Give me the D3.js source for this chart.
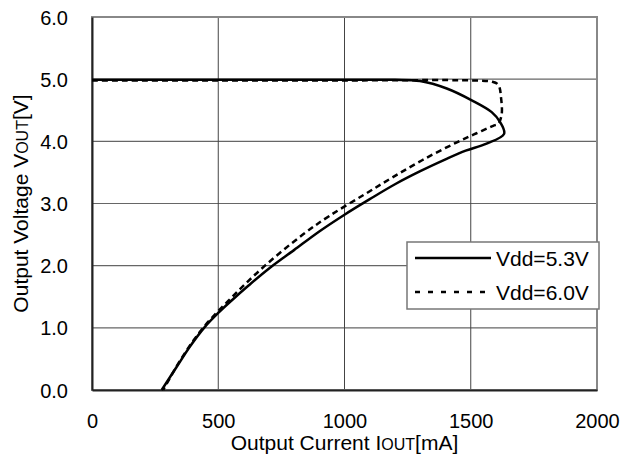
<!DOCTYPE html>
<html>
<head>
<meta charset="utf-8">
<script src="https://cdn.jsdelivr.net/npm/d3@7/dist/d3.min.js"></script>
<style>
  html, body { margin: 0; padding: 0; background: #fff; }
  svg { display: block; font-family: "Liberation Sans", Arial, sans-serif; }
</style>
</head>
<body>
<svg id="chart" width="634" height="462"></svg>
<script>
// Output voltage vs. output current (foldback characteristic)
const xTicks = [0, 500, 1000, 1500, 2000];
const yTicks = [0, 1, 2, 3, 4, 5, 6];

// Vdd = 5.3V
const current53 = [0, 500, 1000, 1200, 1299, 1405, 1504, 1583, 1616, 1632, 1560, 1480, 1400, 1300, 1200, 1100, 1000, 900, 800, 700, 620, 553, 500, 448, 388, 335, 276];
const voltage53 = [4.99, 4.99, 4.99, 4.99, 4.97, 4.85, 4.66, 4.47, 4.31, 4.12, 3.96, 3.85, 3.71, 3.52, 3.31, 3.07, 2.82, 2.55, 2.25, 1.95, 1.68, 1.44, 1.24, 1.02, 0.70, 0.37, 0.0];

// Vdd = 6.0V
const current60 = [0, 500, 1000, 1500, 1583, 1609, 1620, 1622, 1608, 1589, 1523, 1443, 1309, 1190, 1081, 940, 835, 685, 556, 440, 353, 282];
const voltage60 = [4.98, 4.98, 4.98, 4.98, 4.96, 4.91, 4.70, 4.42, 4.28, 4.25, 4.13, 3.98, 3.70, 3.42, 3.15, 2.80, 2.50, 2.00, 1.50, 1.00, 0.50, 0.0];

const seriesNames = ["Vdd=5.3V", "Vdd=6.0V"];

const svg = d3.select("#chart");
const plotLeft = 92, plotRight = 597, plotTop = 17, plotBottom = 390;

const x = d3.scaleLinear().domain([0, 2000]).range([plotLeft, plotRight]);
const y = d3.scaleLinear().domain([0, 6]).range([plotBottom, plotTop]);

// gridlines
const grid = svg.append("g");
grid.selectAll("line.h").data(yTicks.slice(1, -1)).join("line")
  .attr("x1", plotLeft).attr("x2", plotRight)
  .attr("y1", d => y(d)).attr("y2", d => y(d))
  .attr("stroke", "#666").attr("stroke-width", 1.2);
grid.selectAll("line.v").data(xTicks.slice(1, -1)).join("line")
  .attr("y1", plotTop).attr("y2", plotBottom)
  .attr("x1", d => x(d)).attr("x2", d => x(d))
  .attr("stroke", "#444").attr("stroke-width", 1);

// plot frame
svg.append("rect")
  .attr("x", plotLeft).attr("y", plotTop)
  .attr("width", plotRight - plotLeft).attr("height", plotBottom - plotTop)
  .attr("fill", "none").attr("stroke", "#888").attr("stroke-width", 2);

// axes
const xAxis = svg.append("g").attr("transform", `translate(0,${plotBottom})`)
  .call(d3.axisBottom(x).tickValues(xTicks).tickSize(0).tickPadding(0).tickFormat(d3.format("d")));
xAxis.select(".domain").attr("stroke", "#222").attr("stroke-width", 2);
xAxis.selectAll("text").attr("font-size", 20).attr("fill", "#000")
  .attr("dy", null).attr("y", 38);

const yAxis = svg.append("g").attr("transform", `translate(${plotLeft},0)`)
  .call(d3.axisLeft(y).tickValues(yTicks).tickSize(0).tickPadding(0).tickFormat(d3.format(".1f")));
yAxis.select(".domain").attr("stroke", "#222").attr("stroke-width", 2);
yAxis.selectAll("text").attr("font-size", 20).attr("fill", "#000")
  .attr("x", -24).attr("dy", "0.35em");

// axis titles
const xt = svg.append("text")
  .attr("x", (plotLeft + plotRight) / 2).attr("y", 450)
  .attr("text-anchor", "middle").attr("font-size", 21).attr("fill", "#000");
xt.append("tspan").text("Output Current I");
xt.append("tspan").attr("font-size", 16).text("OUT");
xt.append("tspan").text("[mA]");

const yt = svg.append("text")
  .attr("transform", `translate(28,${(plotTop + plotBottom) / 2}) rotate(-90)`)
  .attr("text-anchor", "middle").attr("font-size", 21).attr("fill", "#000");
yt.append("tspan").text("Output Voltage V");
yt.append("tspan").attr("font-size", 16).text("OUT");
yt.append("tspan").text("[V]");

// curves
const line = d3.line().x(d => x(d[0])).y(d => y(d[1])).curve(d3.curveCatmullRom.alpha(0.5));
const pts53 = current53.map((c, i) => [c, voltage53[i]]);
const pts60 = current60.map((c, i) => [c, voltage60[i]]);

svg.append("path").datum(pts60).attr("d", line)
  .attr("fill", "none").attr("stroke", "#000").attr("stroke-width", 2.5)
  .attr("stroke-dasharray", "6,4");
svg.append("path").datum(pts53).attr("d", line)
  .attr("fill", "none").attr("stroke", "#000").attr("stroke-width", 2.5);

// legend
const lg = svg.append("g");
lg.append("rect").attr("x", 407).attr("y", 242).attr("width", 192).attr("height", 67)
  .attr("fill", "#fff").attr("stroke", "#777").attr("stroke-width", 1.5);
const rows = [{ name: seriesNames[0], dash: null, yy: 258 }, { name: seriesNames[1], dash: "5,8", yy: 292 }];
rows.forEach(r => {
  lg.append("line").attr("x1", 415).attr("x2", 491).attr("y1", r.yy).attr("y2", r.yy)
    .attr("stroke", "#000").attr("stroke-width", 2.5)
    .attr("stroke-dasharray", r.dash);
  lg.append("text").attr("x", 496).attr("y", r.yy + 8)
    .attr("font-size", 21).attr("fill", "#000").text(r.name);
});
</script>
</body>
</html>
